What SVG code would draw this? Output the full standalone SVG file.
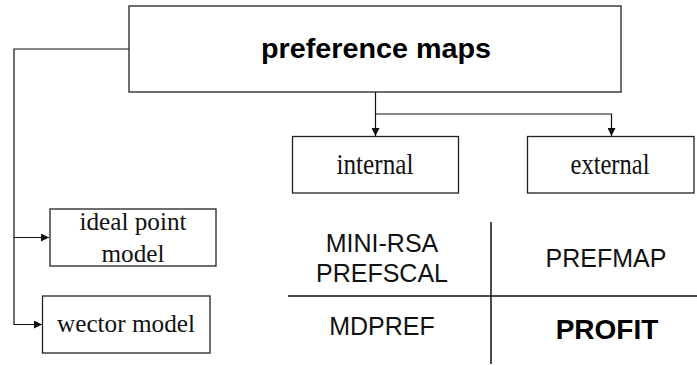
<svg xmlns="http://www.w3.org/2000/svg" width="697" height="365" viewBox="0 0 697 365">
  <style>
    .box { fill: #ffffff; stroke: #222222; stroke-width: 1.3; }
    .link { fill: none; stroke: #111111; stroke-width: 1.2; }
    .grid { stroke: #111111; stroke-width: 1.5; }
    .serif { font-family: "Liberation Serif", "Times New Roman", serif; font-size: 26px; fill: #111111; text-anchor: middle; }
    .serif-lg { font-size: 29px; }
    .sans { font-family: "Liberation Sans", Arial, sans-serif; font-size: 25px; fill: #111111; text-anchor: middle; }
    .bold { font-family: "Liberation Sans", Arial, sans-serif; font-size: 28px; font-weight: bold; fill: #000000; text-anchor: middle; }
  </style>
  <defs>
    <marker id="arrow" viewBox="0 0 10 10" refX="10" refY="5" markerWidth="9" markerHeight="8" markerUnits="userSpaceOnUse" orient="auto">
      <path d="M0,0 L10,5 L0,10 Z" fill="#111111"/>
    </marker>
  </defs>

  <rect width="697" height="365" fill="#ffffff"/>

  <!-- connectors -->
  <g id="connectors">
    <path class="link" d="M129,49 H14 V237.5 H49" marker-end="url(#arrow)"/>
    <path class="link" d="M14,237.5 V324.5 H42" marker-end="url(#arrow)"/>
    <path class="link" d="M375.5,92 V136" marker-end="url(#arrow)"/>
    <path class="link" d="M375.5,114 H611.5 V136" marker-end="url(#arrow)"/>
  </g>

  <g id="preference-maps">
    <rect class="box" x="129" y="6" width="492" height="86"/>
    <text class="bold" x="376" y="58" textLength="230" lengthAdjust="spacingAndGlyphs">preference maps</text>
  </g>

  <g id="internal">
    <rect class="box" x="292.5" y="136.5" width="166" height="56.5"/>
    <text class="serif serif-lg" x="375" y="174" textLength="77" lengthAdjust="spacingAndGlyphs">internal</text>
  </g>

  <g id="external">
    <rect class="box" x="527.5" y="136.5" width="166.5" height="56.5"/>
    <text class="serif serif-lg" x="610" y="174" textLength="79" lengthAdjust="spacingAndGlyphs">external</text>
  </g>

  <g id="ideal-point-model">
    <rect class="box" x="50" y="209" width="166" height="57"/>
    <text class="serif" x="133" y="230" textLength="107" lengthAdjust="spacingAndGlyphs">ideal point</text>
    <text class="serif" x="133" y="261.5" textLength="63" lengthAdjust="spacingAndGlyphs">model</text>
  </g>

  <g id="wector-model">
    <rect class="box" x="42.5" y="296" width="167.5" height="57"/>
    <text class="serif" x="126" y="332" textLength="138" lengthAdjust="spacingAndGlyphs">wector model</text>
  </g>

  <!-- method table -->
  <g id="method-table">
    <line class="grid" x1="491" y1="222" x2="491" y2="364"/>
    <line class="grid" x1="288" y1="296" x2="697" y2="296"/>
    <text class="sans" x="382" y="252">MINI-RSA</text>
    <text class="sans" x="382" y="282">PREFSCAL</text>
    <text class="sans" x="606" y="267">PREFMAP</text>
    <text class="sans" x="382" y="335">MDPREF</text>
    <text class="bold" x="607" y="339">PROFIT</text>
  </g>
</svg>
